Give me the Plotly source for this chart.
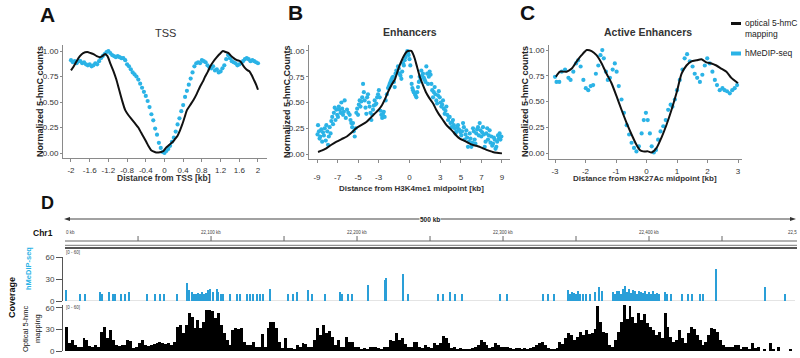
import plotly.graph_objects as go

W, H = 800, 358
def X(p): return p / W
def Y(p): return 1 - p / H

CYAN = "#2bb3e6"
TRACK_CYAN = "#2a9fd8"
FONT = "Liberation Sans, Arial, sans-serif"

# ---------------- Panel A : TSS ----------------
tss_opt_x = [-2.00, -1.94, -1.88, -1.81, -1.74, -1.65, -1.58, -1.52, -1.45, -1.38, -1.33, -1.27, -1.22, -1.16,
             -1.09, -1.03, -0.97, -0.91, -0.84, -0.77, -0.70, -0.63, -0.56, -0.50, -0.45, -0.39, -0.34, -0.29,
             -0.24, -0.18, -0.13, -0.07, -0.02, 0.03, 0.08, 0.13, 0.18, 0.23, 0.28, 0.33, 0.38, 0.43, 0.48,
             0.55, 0.62, 0.69, 0.76, 0.82, 0.87, 0.93, 0.98, 1.05, 1.12, 1.18, 1.25, 1.31, 1.37, 1.43, 1.48,
             1.55, 1.62, 1.68, 1.73, 1.78, 1.82, 1.87, 1.91, 1.96, 2.00]
tss_opt_y = [0.81, 0.85, 0.90, 0.95, 0.98, 0.99, 0.98, 0.97, 0.95, 0.94, 0.95, 0.97, 0.95, 0.88,
             0.80, 0.72, 0.62, 0.52, 0.42, 0.37, 0.33, 0.29, 0.25, 0.20, 0.16, 0.11, 0.065, 0.03,
             0.015, 0.005, 0.005, 0.01, 0.02, 0.05, 0.07, 0.09, 0.11, 0.14, 0.17, 0.22, 0.28, 0.35, 0.42,
             0.47, 0.52, 0.58, 0.65, 0.70, 0.75, 0.80, 0.85, 0.90, 0.94, 0.97, 1.00, 0.99, 0.98, 0.95, 0.93,
             0.91, 0.90, 0.86, 0.83, 0.81, 0.80, 0.76, 0.72, 0.67, 0.62]
tss_hme_x = [-2.00, -1.96, -1.92, -1.88, -1.84, -1.80, -1.76, -1.72, -1.68, -1.64, -1.60, -1.56, -1.52, -1.48,
             -1.44, -1.40, -1.36, -1.32, -1.28, -1.24, -1.20, -1.16, -1.12, -1.08, -1.04, -1.00, -0.96, -0.92,
             -0.88, -0.84, -0.80, -0.76, -0.72, -0.68, -0.64, -0.60, -0.56, -0.52, -0.48, -0.44, -0.40, -0.36,
             -0.32, -0.28, -0.24, -0.20, -0.16, -0.12, -0.08, -0.04, 0.00, 0.04, 0.08, 0.12, 0.16, 0.20, 0.24,
             0.28, 0.32, 0.36, 0.40, 0.44, 0.48, 0.52, 0.56, 0.60, 0.64, 0.68, 0.72, 0.76, 0.80, 0.84, 0.88,
             0.92, 0.96, 1.00, 1.04, 1.08, 1.12, 1.16, 1.20, 1.24, 1.28, 1.32, 1.36, 1.40, 1.44, 1.48, 1.52,
             1.56, 1.60, 1.64, 1.68, 1.72, 1.76, 1.80, 1.84, 1.88, 1.92, 1.96, 2.00]
tss_hme_y = [0.91, 0.89, 0.90, 0.88, 0.90, 0.90, 0.88, 0.89, 0.87, 0.86, 0.87, 0.85, 0.86, 0.88,
             0.87, 0.90, 0.93, 0.95, 0.97, 0.99, 1.00, 0.98, 0.96, 0.95, 0.94, 0.95, 0.94, 0.93,
             0.93, 0.91, 0.87, 0.85, 0.82, 0.79, 0.77, 0.75, 0.72, 0.68, 0.64, 0.60, 0.56, 0.51,
             0.45, 0.38, 0.32, 0.24, 0.18, 0.10, 0.05, 0.01, 0.00, 0.02, 0.04, 0.07, 0.11, 0.15, 0.21,
             0.28, 0.34, 0.41, 0.47, 0.55, 0.61, 0.67, 0.73, 0.79, 0.85, 0.88, 0.89, 0.88, 0.91, 0.90, 0.89,
             0.86, 0.84, 0.83, 0.85, 0.81, 0.82, 0.79, 0.80, 0.83, 0.86, 0.92, 0.96, 0.93, 0.90, 0.89, 0.88,
             0.86, 0.87, 0.88, 0.90, 0.92, 0.93, 0.92, 0.90, 0.91, 0.90, 0.89, 0.88]
tss_ticks = [-2, -1.6, -1.2, -0.8, -0.4, 0, 0.4, 0.8, 1.2, 1.6, 2]
tss_ticktext = ["-2", "-1.6", "-1.2", "-0.8", "-0.4", "0", "0.4", "0.8", "1.2", "1.6", "2"]

# ---------------- Panel B : Enhancers ----------------
enh_opt_x = [-8.9, -8.5, -8.1, -7.6, -7.1, -6.6, -6.1, -5.6, -5.2, -4.7, -4.2, -3.8, -3.4, -3.0, -2.7, -2.4,
             -2.1, -1.75, -1.4, -1.2, -1.0, -0.75, -0.5, -0.3, -0.15, 0.18, 0.35, 0.5, 0.75, 1.0, 1.3, 1.6,
             1.95, 2.3, 2.6, 2.9, 3.25, 3.6, 3.9, 4.2, 4.55, 4.9, 5.2, 5.5, 5.85, 6.2, 6.5, 6.8, 7.15, 7.5,
             7.8, 8.1, 8.5, 9.0]
enh_opt_y = [0.02, 0.035, 0.055, 0.09, 0.12, 0.145, 0.17, 0.21, 0.25, 0.28, 0.31, 0.35, 0.39, 0.43, 0.47, 0.53,
             0.60, 0.67, 0.73, 0.79, 0.85, 0.91, 0.96, 0.99, 1.0, 1.0, 0.97, 0.93, 0.84, 0.75, 0.67, 0.60,
             0.54, 0.49, 0.43, 0.38, 0.33, 0.28, 0.25, 0.22, 0.18, 0.15, 0.135, 0.12, 0.10, 0.087, 0.08, 0.07,
             0.055, 0.04, 0.03, 0.02, 0.012, 0.006]
enh_hme_x = [-8.95, -8.90, -8.81, -8.75, -8.68, -8.58, -8.50, -8.42, -8.33, -8.25, -8.15, -8.09, -8.00, -7.93,
             -7.85, -7.77, -7.68, -7.61, -7.52, -7.44, -7.36, -7.28, -7.20, -7.12, -7.04, -6.96, -6.88, -6.79,
             -6.70, -6.63, -6.55, -6.47, -6.39, -6.31, -6.20, -6.08, -5.95, -5.82, -5.74, -5.66, -5.58, -5.50,
             -5.42, -5.33, -5.25, -5.17, -5.09, -5.01, -4.93, -4.85, -4.77, -4.69, -4.60, -4.52, -4.44, -4.36,
             -4.28, -4.20, -4.12, -4.04, -3.96, -3.88, -3.80, -3.71, -3.63, -3.55, -3.47, -3.39, -3.31, -3.23,
             -3.15, -3.06, -2.98, -2.90, -2.82, -2.74, -2.66, -2.58, -2.50, -2.42, -2.32, -2.20, -2.09, -2.00,
             -1.93, -1.85, -1.77, -1.68, -1.60, -1.52, -1.44, -1.36, -1.28, -1.20, -1.12, -1.04, -0.96, -0.88,
             -0.79, -0.71, -0.63, -0.55, -0.47, -0.39, -0.31, -0.21, -0.14, -0.08, 0.00, 0.08, 0.15, 0.21,
             0.28, 0.34, 0.42, 0.50, 0.58, 0.67, 0.75, 0.83, 0.91, 0.99, 1.07, 1.15, 1.23, 1.31, 1.40, 1.48,
             1.56, 1.64, 1.72, 1.80, 1.88, 1.96, 2.05, 2.13, 2.21, 2.29, 2.37, 2.45, 2.53, 2.61, 2.69, 2.77,
             2.85, 2.94, 3.02, 3.10, 3.18, 3.26, 3.34, 3.42, 3.50, 3.59, 3.67, 3.75, 3.83, 3.91, 3.99, 4.07,
             4.15, 4.23, 4.32, 4.40, 4.48, 4.56, 4.64, 4.72, 4.80, 4.88, 4.96, 5.04, 5.12, 5.21, 5.29, 5.37,
             5.45, 5.53, 5.61, 5.69, 5.78, 5.86, 5.94, 6.02, 6.10, 6.18, 6.26, 6.34, 6.42, 6.50, 6.58, 6.67,
             6.75, 6.83, 6.91, 6.99, 7.07, 7.15, 7.23, 7.32, 7.40, 7.48, 7.56, 7.64, 7.72, 7.80, 7.88, 7.96,
             8.05, 8.13, 8.21, 8.29, 8.37, 8.45, 8.53, 8.61, 8.69, 8.77, 8.85, 8.94]
enh_hme_y = [0.19, 0.28, 0.22, 0.15, 0.17, 0.24, 0.12, 0.21, 0.18, 0.25, 0.13, 0.28, 0.22, 0.09,
             0.17, 0.26, 0.20, 0.32, 0.36, 0.29, 0.40, 0.45, 0.33, 0.43, 0.38, 0.36, 0.46, 0.43,
             0.40, 0.50, 0.44, 0.38, 0.41, 0.52, 0.35, 0.43, 0.40, 0.38, 0.33, 0.30, 0.26, 0.30,
             0.22, 0.17, 0.25, 0.40, 0.44, 0.38, 0.48, 0.52, 0.46, 0.51, 0.55, 0.68, 0.60, 0.52,
             0.45, 0.39, 0.55, 0.58, 0.50, 0.46, 0.40, 0.33, 0.38, 0.43, 0.47, 0.52, 0.48, 0.49,
             0.55, 0.58, 0.62, 0.55, 0.42, 0.38, 0.35, 0.39, 0.41, 0.36, 0.52, 0.58, 0.64, 0.66,
             0.68, 0.70, 0.72, 0.74, 0.75, 0.70, 0.65, 0.78, 0.81, 0.80, 0.85, 0.83, 0.78, 0.76,
             0.73, 0.80, 0.88, 0.86, 0.91, 0.94, 0.97, 1.00, 0.98, 0.96, 0.92, 0.86, 0.75, 0.68,
             0.64, 0.62, 0.60, 0.59, 0.57, 0.55, 0.60, 0.65, 0.70, 0.75, 0.72, 0.81, 0.76, 0.78, 0.74, 0.72,
             0.70, 0.85, 0.78, 0.68, 0.75, 0.80, 0.77, 0.68, 0.62, 0.55, 0.60, 0.65, 0.58, 0.52, 0.49, 0.57,
             0.61, 0.55, 0.50, 0.46, 0.48, 0.52, 0.44, 0.39, 0.42, 0.46, 0.38, 0.33, 0.36, 0.36, 0.30, 0.26,
             0.31, 0.33, 0.28, 0.25, 0.20, 0.22, 0.26, 0.28, 0.24, 0.23, 0.21, 0.18, 0.22, 0.30, 0.26, 0.14,
             0.19, 0.23, 0.16, 0.07, 0.12, 0.20, 0.15, 0.07, 0.11, 0.25, 0.22, 0.14, 0.10, 0.20, 0.24, 0.26,
             0.18, 0.30, 0.23, 0.17, 0.21, 0.26, 0.19, 0.07, 0.12, 0.20, 0.25, 0.14, 0.18, 0.23, 0.11, 0.17,
             0.08, 0.10, 0.16, 0.14, 0.05, 0.07, 0.12, 0.18, 0.15, 0.20, 0.14, 0.17]
enh_ticks = [-9, -7, -5, -3, 0, 3, 5, 7, 9]

# ---------------- Panel C : Active Enhancers ----------------
act_opt_x = [-2.97, -2.84, -2.62, -2.45, -2.29, -2.13, -1.96, -1.80, -1.64, -1.47, -1.31, -1.15, -0.98, -0.82,
             -0.65, -0.49, -0.33, -0.22, -0.11, 0.05, 0.16, 0.33, 0.49, 0.65, 0.82, 0.98, 1.15, 1.31, 1.47,
             1.64, 1.80, 1.96, 2.13, 2.29, 2.45, 2.62, 2.78, 2.95, 3.00]
act_opt_y = [0.74, 0.79, 0.79, 0.82, 0.89, 0.95, 1.00, 0.99, 0.95, 0.87, 0.77, 0.68, 0.55, 0.42,
             0.29, 0.18, 0.08, 0.03, 0.016, 0.016, 0.006, 0.05, 0.15, 0.27, 0.42, 0.58, 0.77, 0.85, 0.89,
             0.90, 0.91, 0.88, 0.87, 0.85, 0.82, 0.79, 0.73, 0.69, 0.68]
act_hme_x = [-3.00, -2.95, -2.86, -2.78, -2.67, -2.56, -2.49, -2.40, -2.31, -2.24, -2.16, -2.07, -1.99, -1.91,
             -1.83, -1.75, -1.66, -1.58, -1.51, -1.45, -1.40, -1.33, -1.27, -1.20, -1.11, -1.04, -0.98, -0.91,
             -0.82, -0.74, -0.65, -0.57, -0.49, -0.41, -0.33, -0.25, -0.16, -0.09, -0.02, 0.04, 0.11, 0.17,
             0.24, 0.31, 0.38, 0.46, 0.55, 0.63, 0.71, 0.79, 0.85, 0.93, 1.00, 1.09, 1.18, 1.25, 1.33, 1.42,
             1.51, 1.58, 1.66, 1.75, 1.83, 1.91, 1.99, 2.07, 2.16, 2.24, 2.31, 2.40, 2.49, 2.56, 2.64, 2.73,
             2.81, 2.89, 2.97]
act_hme_y = [0.74, 0.69, 0.69, 0.79, 0.81, 0.73, 0.71, 0.79, 0.87, 0.90, 0.84, 0.71, 0.63, 0.61,
             0.65, 0.66, 0.77, 0.85, 0.95, 1.00, 0.92, 0.79, 0.71, 0.73, 0.81, 0.87, 0.79, 0.65,
             0.52, 0.39, 0.27, 0.18, 0.10, 0.05, 0.016, 0.065, 0.19, 0.32, 0.39, 0.32, 0.19, 0.065,
             0.006, 0.03, 0.13, 0.21, 0.26, 0.32, 0.42, 0.47, 0.45, 0.52, 0.61, 0.71, 0.81, 0.92, 0.96, 0.89,
             0.84, 0.77, 0.73, 0.69, 0.76, 0.85, 0.92, 0.87, 0.79, 0.71, 0.66, 0.61, 0.63, 0.61, 0.60, 0.58,
             0.61, 0.63, 0.66]
act_ticks = [-3, -2, -1, 0, 1, 2, 3]

y_ticks = [0, 0.25, 0.5, 0.75, 1.0]
y_ticktext = ["0.00", "0.25", "0.50", "0.75", "1.00"]

# ---------------- Panel D : genome browser tracks (Chr1, kb) ----------------
region_start_kb = 22000
region_end_kb = 22500
ruler_ticks = [22050, 22100, 22150, 22200, 22250, 22300, 22350, 22400, 22450]
ruler_labels = {22100: "22,100 kb", 22200: "22,200 kb", 22300: "22,300 kb", 22400: "22,400 kb"}

hme_pos = [22000.7, 22010.3, 22013.7, 22024.0, 22025.3, 22030.1, 22032.9, 22034.2, 22038.4, 22041.1, 22043.8,
           22056.2, 22061.6, 22065.1, 22067.8, 22076.7, 22083.6, 22084.6, 22087.0, 22088.4, 22089.7, 22091.1,
           22092.5, 22093.8, 22095.2, 22096.6, 22097.9, 22099.3, 22101.4, 22104.1, 22105.1, 22106.8, 22108.2,
           22113.0, 22117.8, 22119.9, 22124.7, 22126.7, 22128.8, 22131.5, 22133.6, 22135.6, 22140.4, 22152.7,
           22156.2, 22158.9, 22166.4, 22169.2, 22178.1, 22188.4, 22189.7, 22193.8, 22196.6, 22207.5, 22219.2,
           22220.2, 22231.5, 22234.9, 22255.5, 22258.9, 22263.7, 22267.1, 22271.9, 22297.9, 22302.7, 22327.4,
           22330.8, 22334.9, 22344.5, 22345.9, 22347.3, 22348.6, 22350.0, 22351.4, 22352.7, 22354.8, 22356.8,
           22359.6, 22363.0, 22365.8, 22367.8, 22375.3, 22376.7, 22378.1, 22379.5, 22380.8, 22382.2, 22383.6,
           22384.9, 22386.3, 22387.7, 22389.0, 22390.4, 22391.8, 22393.2, 22394.5, 22395.9, 22397.3, 22398.6,
           22400.0, 22401.4, 22402.7, 22404.1, 22405.5, 22406.8, 22411.0, 22412.3, 22415.1, 22422.6, 22426.7,
           22429.5, 22434.9, 22437.0, 22445.9, 22479.5, 22493.2]
hme_cov = [15, 9, 9, 12, 9, 12, 10, 9, 10, 9, 12,
           9, 9, 9, 9, 9, 24, 15, 12, 10, 9, 11,
           9, 12, 10, 11, 15, 16, 12, 17, 12, 10, 9,
           9, 10, 9, 9, 9, 10, 10, 9, 9, 16, 9,
           10, 12, 15, 10, 9, 12, 10, 9, 9, 22, 29,
           31, 37, 10, 9, 9, 12, 10, 10, 10, 9, 9,
           9, 9, 15, 10, 12, 11, 9, 13, 10, 9, 10,
           10, 12, 19, 14, 12, 9, 14, 13, 10, 17, 20,
           12, 16, 11, 15, 13, 10, 14, 12, 11, 13, 9,
           12, 10, 13, 9, 11, 10, 12, 10, 9, 9, 9,
           9, 10, 10, 43, 19, 10]

opt_bin_kb = 2
opt_cov = [34, 11, 15, 8, 6, 5, 18, 16, 7, 5, 8, 6, 27, 34, 18, 29, 15, 8, 7, 8, 9, 15, 14, 4, 5,
           11, 15, 8, 7, 8, 10, 11, 12, 11, 10, 11, 9, 12, 34, 36, 25, 36, 53, 48, 32, 43, 32, 41, 57, 57,
           55, 46, 53, 36, 25, 15, 8, 29, 32, 30, 32, 13, 8, 8, 13, 6, 5, 23, 6, 32, 40, 41, 32, 13, 4,
           18, 4, 4, 3, 8, 5, 11, 10, 6, 5, 15, 32, 22, 36, 25, 28, 20, 8, 15, 5, 6, 20, 13, 12, 5,
           5, 3, 4, 3, 5, 5, 6, 4, 3, 5, 6, 15, 14, 25, 16, 18, 10, 6, 5, 13, 12, 5, 4, 8, 5,
           4, 11, 8, 11, 21, 18, 11, 4, 5, 3, 4, 3, 2, 3, 4, 5, 8, 15, 12, 8, 4, 6, 11, 8, 6,
           6, 5, 4, 3, 4, 4, 3, 4, 3, 4, 6, 8, 11, 12, 8, 4, 3, 3, 4, 13, 10, 18, 25, 22, 15,
           20, 26, 22, 29, 23, 25, 30, 62, 41, 27, 25, 8, 5, 15, 27, 41, 64, 45, 62, 48, 39, 53, 43, 52, 39,
           34, 29, 22, 27, 18, 53, 34, 20, 13, 15, 29, 18, 11, 25, 34, 31, 22, 15, 8, 13, 22, 32, 31, 27, 15,
           8, 6, 6, 5, 8, 8, 3, 6, 5, 2, 11, 4, 6, 0, 3, 0, 11, 3, 0, 6, 0, 0, 0, 3, 0]
opt_pos = [region_start_kb + opt_bin_kb * (i + 0.5) for i in range(len(opt_cov))]
track_ticks = [0, 30, 60]

# ======================================================================
fig = go.Figure()
panels = [
    ("x", "y", tss_hme_x, tss_hme_y, tss_opt_x, tss_opt_y),
    ("x2", "y2", enh_hme_x, enh_hme_y, enh_opt_x, enh_opt_y),
    ("x3", "y3", act_hme_x, act_hme_y, act_opt_x, act_opt_y),
]
for xa, ya, hx, hy, ox, oy in panels:
    fig.add_trace(go.Scatter(x=hx, y=hy, mode="markers", xaxis=xa, yaxis=ya,
                             marker=dict(color=CYAN, size=4.2, line=dict(width=0)), showlegend=False))
    fig.add_trace(go.Scatter(x=ox, y=oy, mode="lines", xaxis=xa, yaxis=ya,
                             line=dict(color="#111111", width=2, shape="spline", smoothing=0.6),
                             showlegend=False))

fig.add_trace(go.Bar(x=hme_pos, y=hme_cov, width=0.75, xaxis="x4", yaxis="y4",
                     marker=dict(color=TRACK_CYAN, line=dict(width=0)), showlegend=False))
fig.add_trace(go.Bar(x=opt_pos, y=opt_cov, width=opt_bin_kb, xaxis="x5", yaxis="y5",
                     marker=dict(color="#000000", line=dict(width=0)), showlegend=False))

tickfont = dict(family=FONT, size=8, color="#333333")
def xax(dom, rng, tv, tt, anchor, standoff=1):
    return dict(domain=[X(dom[0]), X(dom[1])], range=rng, anchor=anchor, showgrid=False, zeroline=False,
                showline=True, linecolor="#8a8a8a", linewidth=1, ticks="outside", ticklen=3, tickcolor="#8a8a8a",
                tickvals=tv, ticktext=tt, tickfont=tickfont, ticklabelstandoff=standoff, automargin=False)
def yax(dom, rng, anchor):
    return dict(domain=[Y(dom[0]), Y(dom[1])], range=rng, anchor=anchor, showgrid=False, zeroline=False,
                showline=True, linecolor="#8a8a8a", linewidth=1, ticks="outside", ticklen=2, tickcolor="#8a8a8a",
                tickvals=y_ticks, ticktext=y_ticktext, tickfont=tickfont, automargin=False)

track_x = dict(domain=[X(63), X(795)], range=[region_start_kb - 1.4, region_end_kb], visible=False,
               automargin=False)
def track_y(dom, rng, anchor):
    return dict(domain=[Y(dom[0]), Y(dom[1])], range=rng, anchor=anchor, showgrid=False, zeroline=False,
                showline=True, linecolor="#555555", linewidth=1, ticks="outside", ticklen=6,
                tickcolor="#555555", tickvals=track_ticks, automargin=False,
                tickfont=dict(family=FONT, size=8, color="#444444"))

fig.update_layout(
    template="none",
    width=W, height=H, autosize=False, margin=dict(l=0, r=0, t=0, b=0, pad=0, autoexpand=False),
    paper_bgcolor="white", plot_bgcolor="white", bargap=0, showlegend=False,
    font=dict(family=FONT, color="#222222"),
    xaxis=xax((63, 267), [-2.171, 2.193], tss_ticks, tss_ticktext, "y"),
    yaxis=yax((158, 45), [-0.049, 1.059], "x"),
    xaxis2=xax((309, 510), [-9.78, 9.78], enh_ticks, [str(v) for v in enh_ticks], "y2", standoff=7),
    yaxis2=yax((159, 45), [-0.0485, 1.058], "x2"),
    xaxis3=xax((549, 742), [-3.197, 3.13], act_ticks, [str(v) for v in act_ticks], "y3"),
    yaxis3=yax((159, 45), [-0.058, 1.049], "x3"),
    xaxis4=dict(track_x, anchor="y4"),
    yaxis4=track_y((301, 257), [0, 60], "x4"),
    xaxis5=dict(track_x, anchor="y5", matches="x4"),
    yaxis5=track_y((351, 305), [0, 64], "x5"),
)

ann = []
def text(x, y, s, size, color="#222222", bold=False, angle=0, xanchor="center", bg=None):
    d = dict(x=X(x), y=Y(y), xref="paper", yref="paper", text=("<b>%s</b>" % s) if bold else s,
             showarrow=False, xanchor=xanchor, yanchor="middle", textangle=angle,
             font=dict(family=FONT, size=size, color=color), borderpad=0)
    if bg:
        d["bgcolor"] = bg
    ann.append(d)

# panel letters
text(47, 14, "A", 21, "#111111", True)
text(295, 13, "B", 21, "#111111", True)
text(527, 13, "C", 21, "#111111", True)
text(47, 203, "D", 18, "#111111", True)
# panel titles
text(165, 33, "TSS", 11, "#333333")
text(410, 32, "Enhancers", 10.5, "#333333", True)
text(648, 32, "Active Enhancers", 10.5, "#333333", True)
# axis titles
text(164, 178, "Distance from TSS [kb]", 8.5, "#333333", True)
text(411, 188, "Distance from H3K4me1 midpoint [kb]", 8, "#333333", True)
text(645, 178, "Distance from H3K27Ac midpoint [kb]", 8, "#333333", True)
text(40, 102, "Normalized 5-hmC counts", 9, "#222222", True, -90)
text(287, 102, "Normalized 5-hmC Counts", 9, "#222222", True, -90)
text(525, 102, "Normalized 5-hmC counts", 9, "#222222", True, -90)
# legend
text(744, 23, "optical 5-hmC", 8.5, "#222222", False, 0, "left")
text(744, 34, "mapping", 8.5, "#222222", False, 0, "left")
text(744, 53, "hMeDIP-seq", 8.5, "#222222", False, 0, "left")

# browser labels
text(43, 233, "Chr1", 8.5, "#111111", True)
text(12, 298, "Coverage", 9, "#111111", True, -90)
text(28, 269, "hMeDIP-seq", 7.5, CYAN, True, -90)
text(25, 329, "Optical 5-hmc", 7.5, "#111111", False, -90)
text(37, 329, "mapping", 7.5, "#111111", False, -90)
text(430, 219, "500 kb", 6.5, "#222222", True, 0, "center", "white")
text(65, 232, "0 kb", 4.5, "#444444", False, 0, "left")
text(798, 232, "22,5", 4.5, "#444444", False, 0, "right")
text(65, 252, "[0 - 60]", 4.5, "#444444", False, 0, "left")
text(65, 307, "[0 - 60]", 4.5, "#444444", False, 0, "left")
for t, lab in ruler_labels.items():
    ann.append(dict(x=t, y=Y(232), xref="x4", yref="paper", text=lab, showarrow=False,
                    xanchor="center", yanchor="middle", font=dict(family=FONT, size=4.5, color="#444444")))
fig.update_layout(annotations=ann)

shapes = []
def hline(x0, x1, y, color, width):
    shapes.append(dict(type="line", xref="paper", yref="paper", x0=X(x0), x1=X(x1), y0=Y(y), y1=Y(y),
                       line=dict(color=color, width=width)))
# legend glyphs
hline(731, 741, 23.5, "#111111", 3)
hline(731, 741, 53.5, CYAN, 4)
# ruler
hline(68, 792, 219, "#444444", 1.2)
shapes.append(dict(type="path", xref="paper", yref="paper",
                   path="M %f %f L %f %f L %f %f Z" % (X(64), Y(219), X(70), Y(217), X(70), Y(221)),
                   fillcolor="#333333", line=dict(width=0)))
shapes.append(dict(type="path", xref="paper", yref="paper",
                   path="M %f %f L %f %f L %f %f Z" % (X(796), Y(219), X(790), Y(217), X(790), Y(221)),
                   fillcolor="#333333", line=dict(width=0)))
hline(65, 797, 241, "#666666", 1.2)
hline(65, 797, 245.3, "#777777", 1)
hline(65, 797, 248, "#555555", 2)
for t in ruler_ticks:
    shapes.append(dict(type="line", xref="x4", yref="paper", x0=t, x1=t, y0=Y(241), y1=Y(236),
                       line=dict(color="#666666", width=1)))
# hMeDIP baseline
shapes.append(dict(type="line", xref="x4", yref="y4", x0=region_start_kb, x1=region_end_kb, y0=0, y1=0,
                   line=dict(color="#c8c8c8", width=1), layer="below"))
fig.update_layout(shapes=shapes)

fig.write_html("out.html", config={"displayModeBar": False},
               post_script="document.body.style.margin='0px';document.body.style.overflow='hidden';")
